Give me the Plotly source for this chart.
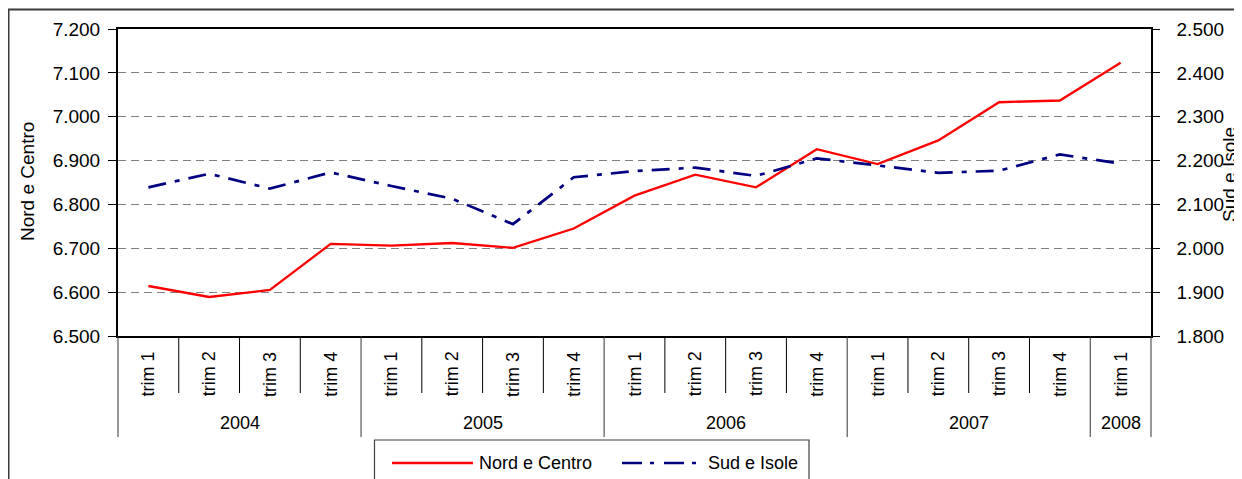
import plotly.graph_objects as go

# ---- data ----
years = ["2004"] * 4 + ["2005"] * 4 + ["2006"] * 4 + ["2007"] * 4 + ["2008"]
quarters = ["trim 1", "trim 2", "trim 3", "trim 4"] * 4 + ["trim 1"]
nord_centro = [6614, 6589, 6605, 6710, 6706, 6712, 6701, 6745, 6820, 6868,
               6839, 6926, 6892, 6946, 7033, 7037, 7123]
sud_isole = [2139, 2170, 2136, 2173, 2142, 2113, 2055, 2162, 2176, 2184,
             2165, 2205, 2189, 2172, 2177, 2214, 2193]
y_left_ticks = [6500, 6600, 6700, 6800, 6900, 7000, 7100, 7200]
y_right_ticks = [1800, 1900, 2000, 2100, 2200, 2300, 2400, 2500]

cats = [f"{y} {q}" for y, q in zip(years, quarters)]
n = len(cats)

FONT = "Liberation Sans, Arial, sans-serif"
FS_TICK = 19
FS_TITLE = 19
FS_CAT = 18
FS_LEG = 18

# page body has an 8px margin: work in reference pixels, shift by OFF
OFF = 8
W, H = 1242 - OFF, 479 - OFF
ML, MR, MT, MB = 118 - OFF, 91, 29 - OFF, 143
PW, PH = W - ML - MR, H - MT - MB


def px_x(px):
    return (px - OFF - ML) / PW


def px_y(py):
    return (MT + PH - (py - OFF)) / PH


fig = go.Figure()
fig.add_trace(go.Scatter(x=cats, y=nord_centro, name="Nord e Centro", mode="lines",
                         line=dict(color="#FF0000", width=2.3), yaxis="y"))
fig.add_trace(go.Scatter(x=cats, y=sud_isole, name="Sud e Isole", mode="lines",
                         line=dict(color="#000080", width=2.7, dash="18px,9px,5px,9px"),
                         yaxis="y2"))

shapes = []
annotations = []

# category labels and dividers
for i, (y, q) in enumerate(zip(years, quarters)):
    annotations.append(dict(x=cats[i], y=px_y(374), xref="x", yref="paper", text=q,
                            textangle=-90, showarrow=False, xanchor="center", yanchor="middle",
                            font=dict(family=FONT, size=FS_CAT, color="black")))
    if i < n - 1 and years[i + 1] == y:
        xb = (i + 1) / n
        shapes.append(dict(type="line", xref="paper", yref="paper", x0=xb, x1=xb,
                           y0=0, y1=px_y(393), line=dict(color="black", width=1)))

group_start = 0
for i in range(n + 1):
    if i == n or (i > 0 and years[i] != years[i - 1]):
        mid = (group_start + i) / 2 / n
        annotations.append(dict(x=mid, y=px_y(423), xref="paper", yref="paper",
                                text=years[group_start], showarrow=False,
                                xanchor="center", yanchor="middle",
                                font=dict(family=FONT, size=FS_CAT, color="black")))
        group_start = i
    if i == 0 or i == n or years[i] != years[i - 1]:
        xb = i / n
        shapes.append(dict(type="line", xref="paper", yref="paper", x0=xb, x1=xb,
                           y0=0, y1=px_y(437), line=dict(color="#333333", width=1)))

# axis titles
annotations.append(dict(x=px_x(27), y=px_y(182), xref="paper", yref="paper",
                        text="Nord e Centro", textangle=-90, showarrow=False,
                        xanchor="center", yanchor="middle",
                        font=dict(family=FONT, size=FS_TITLE, color="black")))
annotations.append(dict(x=px_x(1229), y=px_y(175), xref="paper", yref="paper",
                        text="Sud e Isole", textangle=-90, showarrow=False,
                        xanchor="center", yanchor="middle",
                        font=dict(family=FONT, size=FS_TITLE, color="black")))

# outer frame
shapes.append(dict(type="rect", xref="paper", yref="paper", x0=px_x(8.5), x1=px_x(1262),
                   y0=px_y(500), y1=px_y(9.5), line=dict(color="#3a3a3a", width=2)))

# legend (manual box)
shapes.append(dict(type="rect", xref="paper", yref="paper", x0=px_x(374.5), x1=px_x(809),
                   y0=px_y(520), y1=px_y(440), line=dict(color="#404040", width=1.2)))
shapes.append(dict(type="line", xref="paper", yref="paper", x0=px_x(392), x1=px_x(473),
                   y0=px_y(463), y1=px_y(463), line=dict(color="#FF0000", width=2.3)))
shapes.append(dict(type="line", xref="paper", yref="paper", x0=px_x(622), x1=px_x(700),
                   y0=px_y(463), y1=px_y(463),
                   line=dict(color="#000080", width=2.7, dash="20px,8px,4px,10px")))
annotations.append(dict(x=px_x(477), y=px_y(463), xref="paper", yref="paper",
                        text="Nord e Centro", showarrow=False, xanchor="left", yanchor="middle",
                        font=dict(family=FONT, size=FS_LEG, color="black")))
annotations.append(dict(x=px_x(706), y=px_y(463), xref="paper", yref="paper",
                        text="Sud e Isole", showarrow=False, xanchor="left", yanchor="middle",
                        font=dict(family=FONT, size=FS_LEG, color="black")))

fig.update_layout(
    width=W, height=H,
    margin=dict(l=ML, r=MR, t=MT, b=MB, pad=0),
    paper_bgcolor="white", plot_bgcolor="white",
    separators=",.",
    showlegend=False,
    font=dict(family=FONT, size=FS_TICK, color="black"),
    xaxis=dict(type="category", categoryorder="array", categoryarray=cats,
               range=[-0.5, n - 0.5], showticklabels=False, ticks="",
               showgrid=False, zeroline=False, showline=True, linecolor="black",
               linewidth=1.5, mirror=True),
    yaxis=dict(range=[y_left_ticks[0], y_left_ticks[-1]], tickvals=y_left_ticks,
               tickformat=",.0f", showgrid=True, gridcolor="#808080", gridwidth=1,
               griddash="8px,5px", zeroline=False, showline=True, linecolor="black",
               linewidth=2, ticks="outside", ticklen=8, tickcolor="black",
               ticklabelstandoff=4, tickfont=dict(family=FONT, size=FS_TICK)),
    yaxis2=dict(range=[y_right_ticks[0], y_right_ticks[-1]], tickvals=y_right_ticks,
                tickformat=",.0f", overlaying="y", side="right", showgrid=False,
                zeroline=False, showline=True, linecolor="black", linewidth=1.5,
                ticks="outside", ticklen=7, tickcolor="black", ticklabelstandoff=13,
                tickfont=dict(family=FONT, size=FS_TICK)),
    shapes=shapes,
    annotations=annotations,
)

fig.write_html("out.html")
